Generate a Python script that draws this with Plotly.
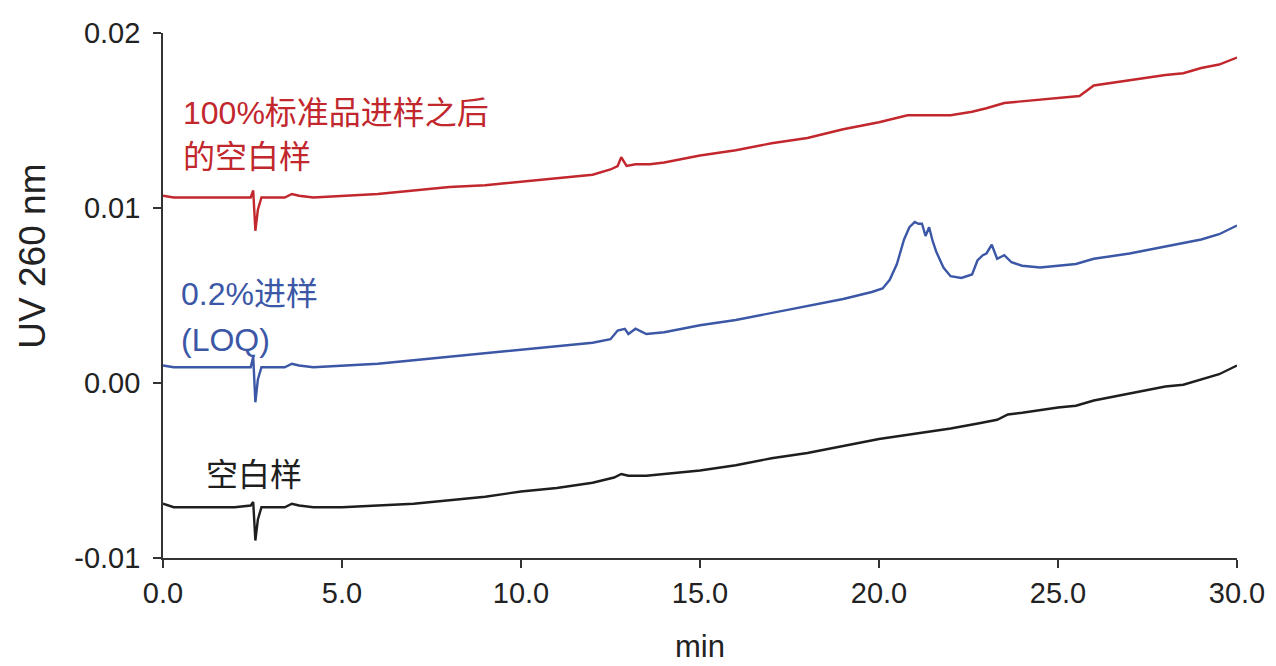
import plotly.graph_objects as go

# Black trace: 空白样
t_black = [0, 0.3, 0.8, 1.5, 2.0, 2.45, 2.52, 2.58, 2.65, 2.75, 3.0, 3.4, 3.6, 3.8, 4.2, 5.0, 6.0, 7.0, 8.0,
           9.0, 10.0, 11.0, 12.0, 12.6, 12.8, 13.0, 13.5, 14.0, 15.0, 16.0, 17.0, 18.0, 19.0, 20.0, 21.0,
           22.0, 22.8, 23.3, 23.6, 24.0, 25.0, 25.5, 26.0, 27.0, 28.0, 28.5, 29.0, 29.5, 30.0]
v_black = [-0.0069, -0.0071, -0.0071, -0.0071, -0.0071, -0.0070, -0.0068, -0.0090, -0.0078, -0.0071,
           -0.0071, -0.0071, -0.0069, -0.0070, -0.0071, -0.0071, -0.0070, -0.0069, -0.0067, -0.0065,
           -0.0062, -0.0060, -0.0057, -0.0054, -0.0052, -0.0053, -0.0053, -0.0052, -0.0050, -0.0047,
           -0.0043, -0.0040, -0.0036, -0.0032, -0.0029, -0.0026, -0.0023, -0.0021, -0.0018, -0.0017,
           -0.0014, -0.0013, -0.0010, -0.0006, -0.0002, -0.0001, 0.0002, 0.0005, 0.0010]

# Red trace: 100%标准品进样之后的空白样
t_red = [0, 0.3, 0.8, 1.5, 2.0, 2.45, 2.52, 2.58, 2.65, 2.75, 3.0, 3.4, 3.6, 3.8, 4.2, 5.0, 6.0, 7.0, 8.0,
         9.0, 10.0, 11.0, 12.0, 12.5, 12.7, 12.8, 12.95, 13.2, 13.6, 14.0, 15.0, 16.0, 17.0, 18.0, 19.0,
         20.0, 20.8, 21.5, 22.0, 22.6, 23.0, 23.5, 24.0, 25.0, 25.6, 26.0, 27.0, 28.0, 28.5, 29.0, 29.5, 30.0]
v_red = [0.0107, 0.0106, 0.0106, 0.0106, 0.0106, 0.0106, 0.0110, 0.0087, 0.0099, 0.0106,
         0.0106, 0.0106, 0.0108, 0.0107, 0.0106, 0.0107, 0.0108, 0.0110, 0.0112, 0.0113,
         0.0115, 0.0117, 0.0119, 0.0122, 0.0124, 0.0129, 0.0124, 0.0125, 0.0125, 0.0126,
         0.0130, 0.0133, 0.0137, 0.0140, 0.0145, 0.0149, 0.0153, 0.0153, 0.0153, 0.0155,
         0.0157, 0.0160, 0.0161, 0.0163, 0.0164, 0.0170, 0.0173, 0.0176, 0.0177, 0.0180, 0.0182, 0.0186]

# Blue trace: 0.2%进样 (LOQ)
t_blue = [0, 0.3, 0.8, 1.5, 2.0, 2.45, 2.52, 2.58, 2.65, 2.75, 3.0, 3.4, 3.6, 3.8, 4.2, 5.0, 6.0, 7.0, 8.0,
          9.0, 10.0, 11.0, 12.0, 12.5, 12.7, 12.9, 13.0, 13.2, 13.5, 14.0, 15.0, 16.0, 17.0, 18.0, 19.0,
          19.8, 20.1, 20.3, 20.5, 20.7, 20.85, 21.0, 21.1, 21.2, 21.3, 21.4, 21.5, 21.6, 21.8, 22.0, 22.3, 22.6,
          22.75, 22.9, 23.0, 23.15, 23.3, 23.5, 23.7, 24.0, 24.5, 25.0, 25.5, 26.0, 27.0, 28.0, 29.0, 29.5, 30.0]
v_blue = [0.0010, 0.0009, 0.0009, 0.0009, 0.0009, 0.0009, 0.0015, -0.0011, 0.0002, 0.0009,
          0.0009, 0.0009, 0.0011, 0.0010, 0.0009, 0.0010, 0.0011, 0.0013, 0.0015, 0.0017,
          0.0019, 0.0021, 0.0023, 0.0025, 0.0030, 0.0031, 0.0028, 0.0031, 0.0028, 0.0029,
          0.0033, 0.0036, 0.0040, 0.0044, 0.0048, 0.0052, 0.0054, 0.0059, 0.0068, 0.0082,
          0.0089, 0.0092, 0.0091, 0.0091, 0.0084, 0.0089, 0.0081, 0.0075, 0.0066, 0.0061, 0.0060,
          0.0062, 0.0070, 0.0073, 0.0074, 0.0079, 0.0071, 0.0073, 0.0069, 0.0067, 0.0066,
          0.0067, 0.0068, 0.0071, 0.0074, 0.0078, 0.0082, 0.0085, 0.0090]

x_ticks = [0, 5, 10, 15, 20, 25, 30]
x_labels = ["0.0", "5.0", "10.0", "15.0", "20.0", "25.0", "30.0"]
y_ticks = [-0.01, 0.0, 0.01, 0.02]
y_labels = ["-0.01", "0.00", "0.01", "0.02"]

RED = "#c1272d"
BLUE = "#3b57a6"
BLACK = "#1e1e1e"
FONT = "Liberation Sans, Arial, Noto Sans CJK SC, sans-serif"

fig = go.Figure()
fig.add_trace(go.Scatter(x=t_black, y=v_black, mode="lines", line=dict(color=BLACK, width=2.4), showlegend=False))
fig.add_trace(go.Scatter(x=t_blue, y=v_blue, mode="lines", line=dict(color=BLUE, width=2.4), showlegend=False))
fig.add_trace(go.Scatter(x=t_red, y=v_red, mode="lines", line=dict(color=RED, width=2.4), showlegend=False))

annots = [
    dict(x=0.5, y=0.01543, text="100%标准品进样之后", color=RED),
    dict(x=0.5, y=0.01291, text="的空白样", color=RED),
    dict(x=0.45, y=0.00509, text="0.2%进样", color=BLUE),
    dict(x=0.45, y=0.00246, text="(LOQ)", color=BLUE),
    dict(x=1.15, y=-0.00526, text="空白样", color=BLACK),
]
for a in annots:
    fig.add_annotation(x=a["x"], y=a["y"], xref="x", yref="y", text=a["text"], showarrow=False,
                       xanchor="left", yanchor="middle",
                       font=dict(family=FONT, size=32, color=a["color"]))

# axis titles
fig.add_annotation(text="UV 260 nm", xref="paper", yref="paper", x=-0.1215, y=0.575, textangle=-90,
                   showarrow=False, xanchor="center", yanchor="middle",
                   font=dict(family=FONT, size=37, color="#222"))
fig.add_annotation(text="min", xref="paper", yref="paper", x=0.5, y=-0.2057,
                   showarrow=False, xanchor="center", yanchor="bottom",
                   font=dict(family=FONT, size=31, color="#222"))

fig.update_layout(
    width=1268, height=658,
    margin=dict(l=155, r=39, t=25, b=108, autoexpand=False),
    paper_bgcolor="white", plot_bgcolor="white",
    font=dict(family=FONT, size=29, color="#222"),
)
fig.update_xaxes(range=[0, 30], tickvals=x_ticks, ticktext=x_labels, showgrid=False, zeroline=False,
                 showline=True, linecolor="#333", linewidth=1.6, ticks="outside", ticklen=8,
                 tickcolor="#333", tickwidth=1.6, tickfont=dict(size=29), automargin=False)
fig.update_yaxes(range=[-0.01, 0.02], tickvals=y_ticks, ticktext=y_labels, showgrid=False, zeroline=False,
                 showline=True, linecolor="#333", linewidth=1.6, ticks="outside", ticklen=8,
                 tickcolor="#333", tickwidth=1.6, tickfont=dict(size=29), automargin=False,
                 ticklabelstandoff=7)

fig.write_html("out.html")
